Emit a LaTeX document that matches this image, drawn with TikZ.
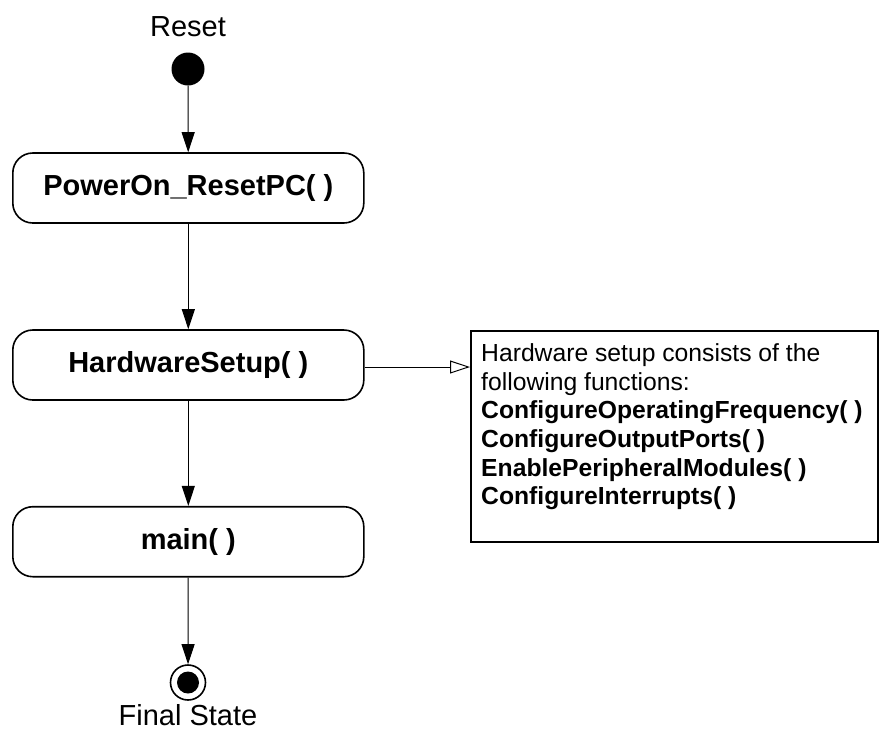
\documentclass[tikz,border=0pt]{standalone}
\usepackage{fontspec}
\setmainfont{Liberation Sans}
\usetikzlibrary{arrows.meta}
\begin{document}
\begin{tikzpicture}[x=1pt,y=-1pt,
  stbox/.style={draw, line width=1.6pt, rounded corners=20pt, minimum width=351pt, minimum height=70pt, inner sep=0pt, font=\fontsize{29}{34}\selectfont\bfseries},
  lbl/.style={inner sep=0pt, font=\fontsize{29}{34}\selectfont},
  conn/.style={line width=1pt, -{Triangle[length=20pt,width=13pt]}},
  noteconn/.style={line width=1pt, -{Triangle[open,length=20pt,width=13pt,fill=white]}},
  notebox/.style={draw, line width=1.6pt, minimum width=407pt, minimum height=211pt, inner sep=0pt, anchor=north west},
  notetxt/.style={inner sep=0pt, anchor=base west, align=left, font=\fontsize{24.7}{28.6}\selectfont}
]
\useasboundingbox (0,0) rectangle (882,740);
\fill[white] (0,0) rectangle (882,740);

\node[lbl, anchor=base] (resetlbl) at (188,36) {Reset};
\node[circle, fill=black, minimum size=33pt, inner sep=0pt] (init) at (188,69) {};

\node[stbox] (p) at (188.3,188) {PowerOn\_ResetPC( )};
\node[stbox] (hw) at (188.3,365) {HardwareSetup( )};
\node[stbox] (m) at (188.3,541.7) {main( )};

\node[circle, draw, line width=1.6pt, minimum size=35pt, inner sep=0pt] (final) at (188,682.5) {};
\node[circle, fill=black, minimum size=22pt, inner sep=0pt] (finalin) at (final.center) {};
\node[lbl, anchor=base] (finallbl) at (188,725) {Final State};

\node[notebox] (note) at (470,330) {};
% anchor base refers to the last line: 5 lines of 28.6pt below the first baseline (361.7)
\node[notetxt] (notetext) at (481,504.7) {Hardware setup consists of the\\following functions:\\\textbf{ConfigureOperatingFrequency( )}\\\textbf{ConfigureOutputPorts( )}\\\textbf{EnablePeripheralModules( )}\\\textbf{ConfigureInterrupts( )}};

\draw[conn] (init) -- (p);
\draw[conn] (p) -- (hw);
\draw[conn] (hw) -- (m);
\draw[conn] (m) -- (final);
\coordinate (hwout) at ([yshift=-2pt]hw.east);
\draw[noteconn] (hwout) -- (hwout -| note.west);
\end{tikzpicture}
\end{document}
